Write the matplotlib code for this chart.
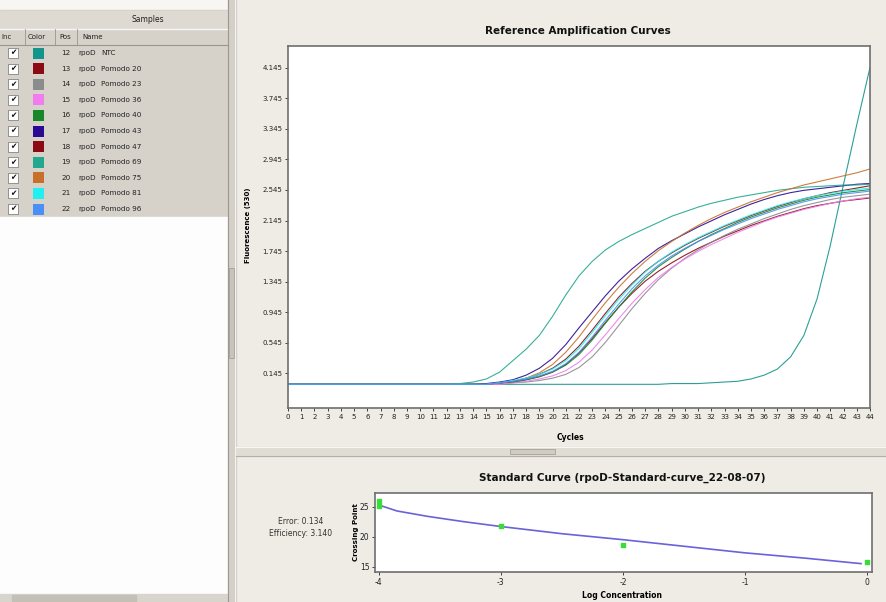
"""
    qpcr_screen

    Amplification curves and standard curve of an rpoD run.
"""

import matplotlib
matplotlib.use("Agg")
import matplotlib.pyplot as plt
from matplotlib.patches import Rectangle

W, H = 887, 602

# samples table
sample_pos = [12, 13, 14, 15, 16, 17, 18, 19, 20, 21, 22]
sample_names = ["NTC", "Pomodo 20", "Pomodo 23", "Pomodo 36", "Pomodo 40", "Pomodo 43",
                "Pomodo 47", "Pomodo 69", "Pomodo 75", "Pomodo 81", "Pomodo 96"]
sample_colors = ["#14958c", "#8b0a14", "#8c8c8c", "#f07cf0", "#17882a", "#2a0a92",
                 "#8b0a14", "#22a88e", "#c8702a", "#22f0f0", "#4a8ff8"]

# amplification curves, fluorescence per cycle 0..44
cycles = list(range(45))
ntc = [0.00, 0.00, 0.00, 0.00, 0.00, 0.00, 0.00, 0.00, 0.00, 0.00, 0.00, 0.00, 0.00, 0.00, 0.00,
       0.00, 0.00, 0.00, 0.00, 0.00, 0.00, 0.00, 0.00, 0.00, 0.00, 0.00, 0.00, 0.00, 0.00, 0.01,
       0.01, 0.01, 0.02, 0.03, 0.04, 0.07, 0.12, 0.20, 0.36, 0.64, 1.12, 1.82, 2.62, 3.40, 4.15]
pomodo_20 = [0.00, 0.00, 0.00, 0.00, 0.00, 0.00, 0.00, 0.00, 0.00, 0.00, 0.00, 0.00, 0.00, 0.00, 0.00,
             0.00, 0.01, 0.03, 0.06, 0.10, 0.16, 0.26, 0.41, 0.60, 0.81, 1.01, 1.19, 1.35, 1.48, 1.59,
             1.69, 1.78, 1.86, 1.94, 2.01, 2.08, 2.14, 2.20, 2.25, 2.30, 2.34, 2.37, 2.40, 2.42, 2.44]
pomodo_23 = [0.00, 0.00, 0.00, 0.00, 0.00, 0.00, 0.00, 0.00, 0.00, 0.00, 0.00, 0.00, 0.00, 0.00, 0.00,
             0.00, 0.00, 0.02, 0.03, 0.05, 0.08, 0.13, 0.22, 0.36, 0.55, 0.77, 0.99, 1.19, 1.37, 1.52,
             1.65, 1.76, 1.86, 1.95, 2.03, 2.10, 2.17, 2.23, 2.29, 2.34, 2.38, 2.42, 2.45, 2.47, 2.49]
pomodo_36 = [0.00, 0.00, 0.00, 0.00, 0.00, 0.00, 0.00, 0.00, 0.00, 0.00, 0.00, 0.00, 0.00, 0.00, 0.00,
             0.00, 0.00, 0.02, 0.04, 0.07, 0.11, 0.18, 0.29, 0.45, 0.65, 0.86, 1.06, 1.24, 1.40, 1.53,
             1.64, 1.74, 1.83, 1.91, 1.99, 2.06, 2.13, 2.19, 2.24, 2.29, 2.33, 2.37, 2.40, 2.43, 2.45]
pomodo_40 = [0.00, 0.00, 0.00, 0.00, 0.00, 0.00, 0.00, 0.00, 0.00, 0.00, 0.00, 0.00, 0.00, 0.00, 0.00,
             0.00, 0.02, 0.03, 0.06, 0.10, 0.16, 0.25, 0.39, 0.58, 0.80, 1.01, 1.21, 1.39, 1.54, 1.66,
             1.77, 1.87, 1.96, 2.04, 2.12, 2.19, 2.25, 2.31, 2.36, 2.41, 2.45, 2.48, 2.51, 2.53, 2.55]
pomodo_43 = [0.00, 0.00, 0.00, 0.00, 0.00, 0.00, 0.00, 0.00, 0.00, 0.00, 0.00, 0.00, 0.00, 0.00, 0.00,
             0.01, 0.03, 0.06, 0.12, 0.21, 0.34, 0.52, 0.74, 0.95, 1.16, 1.35, 1.51, 1.65, 1.78, 1.88,
             1.97, 2.06, 2.14, 2.22, 2.29, 2.36, 2.42, 2.47, 2.51, 2.54, 2.56, 2.58, 2.60, 2.62, 2.63]
pomodo_47 = [0.00, 0.00, 0.00, 0.00, 0.00, 0.00, 0.00, 0.00, 0.00, 0.00, 0.00, 0.00, 0.00, 0.00, 0.00,
             0.00, 0.02, 0.04, 0.08, 0.13, 0.21, 0.33, 0.50, 0.71, 0.93, 1.14, 1.32, 1.48, 1.61, 1.72,
             1.82, 1.91, 1.99, 2.07, 2.14, 2.21, 2.27, 2.33, 2.38, 2.43, 2.47, 2.51, 2.54, 2.57, 2.60]
pomodo_69 = [0.00, 0.00, 0.00, 0.00, 0.00, 0.00, 0.00, 0.00, 0.00, 0.00, 0.00, 0.00, 0.00, 0.01, 0.03,
             0.07, 0.16, 0.31, 0.46, 0.64, 0.89, 1.17, 1.42, 1.61, 1.76, 1.87, 1.96, 2.04, 2.12, 2.20,
             2.26, 2.32, 2.37, 2.41, 2.45, 2.48, 2.51, 2.54, 2.56, 2.58, 2.59, 2.60, 2.61, 2.61, 2.62]
pomodo_75 = [0.00, 0.00, 0.00, 0.00, 0.00, 0.00, 0.00, 0.00, 0.00, 0.00, 0.00, 0.00, 0.00, 0.00, 0.00,
             0.00, 0.02, 0.04, 0.08, 0.15, 0.26, 0.42, 0.62, 0.85, 1.07, 1.27, 1.45, 1.61, 1.75, 1.87,
             1.98, 2.08, 2.17, 2.25, 2.32, 2.39, 2.45, 2.51, 2.56, 2.61, 2.65, 2.69, 2.73, 2.77, 2.82]
pomodo_81 = [0.00, 0.00, 0.00, 0.00, 0.00, 0.00, 0.00, 0.00, 0.00, 0.00, 0.00, 0.00, 0.00, 0.00, 0.00,
             0.00, 0.02, 0.05, 0.08, 0.13, 0.20, 0.31, 0.47, 0.68, 0.90, 1.11, 1.30, 1.47, 1.61, 1.73,
             1.83, 1.92, 2.00, 2.08, 2.15, 2.22, 2.28, 2.34, 2.39, 2.43, 2.47, 2.50, 2.53, 2.55, 2.57]
pomodo_96 = [0.00, 0.00, 0.00, 0.00, 0.00, 0.00, 0.00, 0.00, 0.00, 0.00, 0.00, 0.00, 0.00, 0.00, 0.00,
             0.00, 0.02, 0.04, 0.07, 0.11, 0.17, 0.27, 0.42, 0.62, 0.84, 1.05, 1.25, 1.42, 1.56, 1.68,
             1.78, 1.87, 1.95, 2.03, 2.10, 2.17, 2.23, 2.29, 2.34, 2.39, 2.43, 2.46, 2.49, 2.51, 2.53]
curves = [ntc, pomodo_20, pomodo_23, pomodo_36, pomodo_40, pomodo_43,
          pomodo_47, pomodo_69, pomodo_75, pomodo_81, pomodo_96]
fluor_ticks = [0.145, 0.545, 0.945, 1.345, 1.745, 2.145, 2.545, 2.945, 3.345, 3.745, 4.145]

# standard curve
std_conc = [-4, -4, -3, -2, 0]
std_cp = [25.9, 25.1, 21.8, 18.6, 15.7]
fit_conc = [-4.0, -3.85, -3.6, -3.3, -3.0, -2.5, -2.0, -1.5, -1.0, -0.5, -0.05]
fit_cp = [25.3, 24.3, 23.4, 22.5, 21.7, 20.5, 19.5, 18.4, 17.3, 16.4, 15.5]
err_text = "Error: 0.134"
eff_text = "Efficiency: 3.140"

plt.rcParams["axes.unicode_minus"] = False


def px(x0, y0, x1, y1):
    """pixel box -> figure fraction rect"""
    return [x0 / W, 1 - y1 / H, (x1 - x0) / W, (y1 - y0) / H]


fig = plt.figure(figsize=(W / 100, H / 100), dpi=100)
fig.patch.set_facecolor("#efece5")

# window chrome drawn in pixel coordinates
bg = fig.add_axes([0, 0, 1, 1])
bg.set_xlim(0, W)
bg.set_ylim(H, 0)
bg.axis("off")

bg.add_patch(Rectangle((0, 0), 228, 10, color="#f7f6f3"))
bg.add_patch(Rectangle((0, 10), 228, 207, color="#d6d2ca"))
bg.add_patch(Rectangle((0, 217), 228, 377, color="#fdfdfd"))
bg.add_patch(Rectangle((0, 594), 228, 8, color="#d8d5ce"))
bg.add_patch(Rectangle((12, 595), 124, 6, color="#c4c0b8"))
# header rows
bg.add_patch(Rectangle((0, 11), 228, 17, color="#dedad2"))
bg.text(148, 19.5, "Samples", fontsize=5.5, ha="center", va="center", color="#222222")
bg.plot([0, 228], [28.5, 28.5], color="#f5f5f5", lw=1)
bg.plot([0, 228], [45, 45], color="#9a968e", lw=0.8)
for xs in [25, 55, 77]:
    bg.plot([xs, xs], [29, 45], color="#9a968e", lw=0.6)
for xt, t in [(1, "Inc"), (28, "Color"), (59, "Pos"), (82, "Name")]:
    bg.text(xt, 37, t, fontsize=5, va="center", color="#222222")

for i in range(len(sample_pos)):
    yc = 53 + 15.6 * i
    bg.add_patch(Rectangle((8, yc - 5), 10, 10, facecolor="white", edgecolor="#707070", lw=0.5))
    bg.text(13, yc, "\u2714", fontsize=5.5, ha="center", va="center", color="#111111")
    bg.add_patch(Rectangle((33, yc - 5.5), 11, 11, facecolor=sample_colors[i], edgecolor="none"))
    bg.text(61, yc, str(sample_pos[i]), fontsize=5.2, va="center", color="#222222")
    bg.text(78, yc, "rpoD", fontsize=5.2, va="center", color="#222222")
    bg.text(101, yc, sample_names[i], fontsize=5.2, va="center", color="#222222")

# vertical splitter
bg.add_patch(Rectangle((228, 0), 8, H, color="#d4d0c8"))
bg.plot([228.5, 228.5], [0, H], color="#9c988f", lw=0.8)
bg.plot([235.5, 235.5], [0, H], color="#f4f2ee", lw=0.8)
bg.add_patch(Rectangle((229, 268), 5, 90, facecolor="#c8c4bc", edgecolor="#9c988f", lw=0.5))

# horizontal splitter
bg.add_patch(Rectangle((236, 447), W - 236, 9, color="#e0ddd5"))
bg.plot([236, W], [447, 447], color="#f8f7f4", lw=0.8)
bg.plot([236, W], [456, 456], color="#b4b0a8", lw=0.8)
bg.add_patch(Rectangle((510, 449), 45, 5, facecolor="#d0ccc4", edgecolor="#9c988f", lw=0.5))

# titles and axis labels
bg.text(578, 31, "Reference Amplification Curves", fontsize=7.5, weight="bold",
        ha="center", va="center", color="#111111")
bg.text(570, 437, "Cycles", fontsize=5.5, weight="bold", ha="center", va="center")
bg.text(248, 225, "Fluorescence (530)", fontsize=5, weight="bold", rotation=90,
        ha="center", va="center")
bg.text(622, 478, "Standard Curve (rpoD-Standard-curve_22-08-07)", fontsize=7.5,
        weight="bold", ha="center", va="center", color="#111111")
bg.text(622, 596, "Log Concentration", fontsize=5.5, weight="bold", ha="center", va="center")
bg.text(356, 532, "Crossing Point", fontsize=5, weight="bold", rotation=90,
        ha="center", va="center")
bg.text(301, 522, err_text, fontsize=5.5, ha="center", va="center", color="#333333")
bg.text(301, 533, eff_text, fontsize=5.5, ha="center", va="center", color="#333333")

# amplification plot
ax = fig.add_axes(px(288, 46, 870, 408))
for vals, col in zip(curves, sample_colors):
    ax.plot(cycles, vals, color=col, lw=0.8, alpha=0.9)
ax.set_xlim(0, 44)
ax.set_ylim(-0.31, 4.43)
ax.set_xticks(cycles)
ax.set_xticklabels([str(c) for c in cycles], fontsize=5)
ax.set_yticks(fluor_ticks)
ax.set_yticklabels(["%.3f" % v for v in fluor_ticks], fontsize=5)
ax.tick_params(length=2, width=0.6, pad=2, colors="#222222")
for s in ax.spines.values():
    s.set_color("#6e6e6e")
    s.set_linewidth(1.2)

# standard curve plot
ax2 = fig.add_axes(px(375, 493, 872, 572))
ax2.plot(fit_conc, fit_cp, color="#6a62d8", lw=1.2)
ax2.scatter(std_conc, std_cp, marker="s", s=10, color="#38dd38", zorder=3)
ax2.set_xlim(-4.03, 0.04)
ax2.set_ylim(14.1, 27.3)
ax2.set_xticks([-4, -3, -2, -1, 0])
ax2.set_yticks([15, 20, 25])
ax2.tick_params(labelsize=5.5, length=2, width=0.6, pad=2, colors="#222222")
for s in ax2.spines.values():
    s.set_color("#6e6e6e")
    s.set_linewidth(1.2)

fig.savefig("out.png", dpi=100, facecolor=fig.get_facecolor())
